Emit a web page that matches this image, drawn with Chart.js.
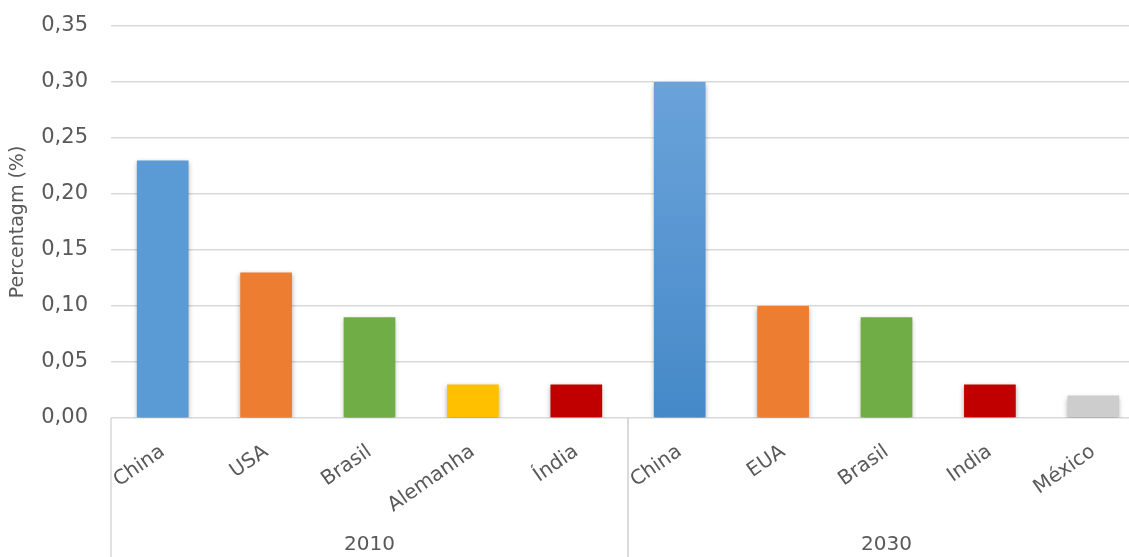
<!DOCTYPE html>
<html>
<head>
<meta charset="utf-8">
<script src="https://cdn.jsdelivr.net/npm/chart.js@4/dist/chart.umd.min.js"></script>
<style>
  html, body { margin: 0; padding: 0; background: #fff; overflow: hidden; }
  #wrap { position: absolute; left: 0; top: 0; width: 1145px; height: 557px; }
</style>
</head>
<body>
<div id="wrap"><canvas id="myChart"></canvas></div>
<script>
// chart data
const countries = ['China', 'USA', 'Brasil', 'Alemanha', 'Índia', 'China', 'EUA', 'Brasil', 'India', 'México'];
const groups = ['2010', '2030'];
const groupSizes = [5, 5];
const shares = [0.23, 0.13, 0.09, 0.03, 0.03, 0.30, 0.10, 0.09, 0.03, 0.02];
const yTicks = [0, 0.05, 0.10, 0.15, 0.20, 0.25, 0.30, 0.35];

const bar_colors = ['#5b9bd5', '#ed7d31', '#70ad47', '#ffc000', '#c00000',
                    'gradient', '#ed7d31', '#70ad47', '#c00000', '#cdcdcd'];
const txt = '#595959';
const line = '#d9d9d9';

function bar_color(c) {
    const col = bar_colors[c.dataIndex];
    if (col !== 'gradient') return col;
    const area = c.chart.chartArea;
    if (!area) return '#5b9bd5';
    const g = c.chart.ctx.createLinearGradient(0, area.top, 0, area.bottom);
    g.addColorStop(0, '#71a7dd');
    g.addColorStop(1, '#4589c8');
    return g;
}

// bar shadows
const shadows = {
    id: 'shadows',
    beforeDatasetDraw(chart) {
        const ctx = chart.ctx;
        ctx.save();
        ctx.shadowColor = 'rgba(0,0,0,0.35)';
        ctx.shadowBlur = 5;
        ctx.shadowOffsetX = 0;
        ctx.shadowOffsetY = 2;
    },
    afterDatasetDraw(chart) {
        chart.ctx.restore();
    }
};

// group separators + group labels under the rotated country names
const groupAxis = {
    id: 'groupAxis',
    afterDraw(chart) {
        const ctx = chart.ctx;
        const x = chart.scales.x;
        const bottom = chart.chartArea.bottom;
        const h = chart.height;
        ctx.save();
        ctx.strokeStyle = line;
        ctx.lineWidth = 1.5;
        ctx.fillStyle = txt;
        ctx.font = '20px "DejaVu Sans"';
        ctx.textAlign = 'center';
        ctx.textBaseline = 'middle';
        let start = 0;
        const half = (x.getPixelForValue(1) - x.getPixelForValue(0)) / 2;
        groups.forEach((g, i) => {
            const end = start + groupSizes[i] - 1;
            const left = x.getPixelForValue(start) - half;
            const right = x.getPixelForValue(end) + half;
            ctx.beginPath();
            ctx.moveTo(left, bottom);
            ctx.lineTo(left, h);
            ctx.moveTo(right, bottom);
            ctx.lineTo(right, h);
            ctx.stroke();
            ctx.fillText(g, (left + right) / 2, 545);
            start = end + 1;
        });
        ctx.restore();
    }
};

const ctx = document.getElementById('myChart');
new Chart(ctx, {
    type: 'bar',
    data: {
        labels: countries,
        datasets: [{
            data: shares,
            backgroundColor: bar_color,
            borderWidth: 0,
            barPercentage: 0.5,
            categoryPercentage: 1
        }]
    },
    plugins: [shadows, groupAxis],
    options: {
        responsive: true,
        maintainAspectRatio: false,
        animation: false,
        layout: { padding: { top: 26, right: 0, left: 0, bottom: 0 } },
        plugins: {
            legend: { display: false },
            tooltip: { enabled: false }
        },
        scales: {
            x: {
                grid: { display: false, drawTicks: false },
                border: { display: false },
                ticks: {
                    color: txt,
                    font: { family: 'DejaVu Sans', size: 20 },
                    minRotation: 35,
                    maxRotation: 35,
                    autoSkip: false,
                    padding: 22
                },
                afterFit: (s) => { s.height = 139; }
            },
            y: {
                min: 0,
                max: 0.35,
                afterBuildTicks: (s) => { s.ticks = yTicks.map(v => ({ value: v })); },
                grid: { color: line, lineWidth: 1.5, drawTicks: false },
                border: { display: false },
                ticks: {
                    color: txt,
                    font: { family: 'DejaVu Sans', size: 21 },
                    padding: 23,
                    callback: (v) => v.toFixed(2).replace('.', ',')
                },
                title: {
                    display: true,
                    text: 'Percentagm (%)',
                    color: txt,
                    font: { family: 'DejaVu Sans', size: 19 },
                    padding: { top: 7, bottom: 0 }
                },
                afterFit: (s) => {
                    s.width = 111;
                    s.paddingTop = 0;
                    s.paddingBottom = 0;
                }
            }
        }
    }
});
</script>
</body>
</html>
